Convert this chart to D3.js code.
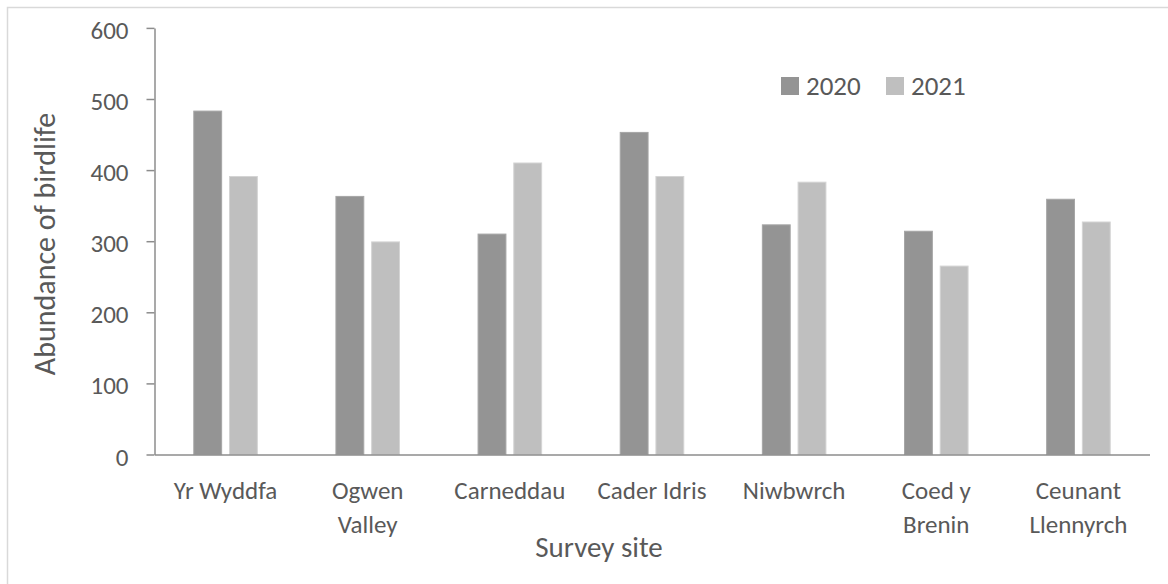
<!DOCTYPE html>
<html>
<head>
<meta charset="utf-8">
<script src="https://cdn.jsdelivr.net/npm/d3@7"></script>
<style>
  html, body { margin: 0; padding: 0; background: #ffffff; }
  svg { display: block; }
  svg text { font-family: Carlito, Calibri, Lato, "Open Sans", sans-serif; }
</style>
</head>
<body>
<svg id="chart" width="1168" height="584"></svg>
<script>
// Survey sites (label lines as they wrap under the axis)
const sites = ["Yr Wyddfa", "Ogwen Valley", "Carneddau", "Cader Idris", "Niwbwrch", "Coed y Brenin", "Ceunant Llennyrch"];
const siteLines = [["Yr Wyddfa"], ["Ogwen", "Valley"], ["Carneddau"], ["Cader Idris"], ["Niwbwrch"], ["Coed y", "Brenin"], ["Ceunant", "Llennyrch"]];
const years = ["2020", "2021"];
const counts2020 = [483, 363, 310, 453, 323, 314, 359];
const counts2021 = [391, 299, 410, 391, 383, 265, 327];
const yTicks = [0, 100, 200, 300, 400, 500, 600];

const seriesValues = { "2020": counts2020, "2021": counts2021 };
const fills = { "2020": "#949494", "2021": "#bfbfbf" };
const edges = { "2020": "#a6a6a6", "2021": "#d4d4d4" };

const svg = d3.select("#chart");
const textColor = "#595959";
const axisColor = "#8c8c8c";

// chart frame
svg.append("rect")
  .attr("x", 7.5).attr("y", 7.5)
  .attr("width", 1200).attr("height", 620)
  .attr("fill", "none").attr("stroke", "#d9d9d9").attr("stroke-width", 1.5);

const plot = { left: 154.5, right: 1149.5, top: 27.9, bottom: 454.5 };

const x = d3.scaleBand().domain(sites).range([plot.left, plot.right]).paddingInner(0).paddingOuter(0);
const inner = d3.scaleBand().domain(years).range([0, x.bandwidth()]).paddingInner(0.22).paddingOuter(1.1);
const y = d3.scaleLinear().domain([0, 600]).range([plot.bottom, plot.top]);

// bars
const groups = svg.append("g").selectAll("g")
  .data(sites).join("g")
  .attr("transform", d => `translate(${x(d)},0)`);

groups.selectAll("rect")
  .data((d, i) => years.map(yr => ({ yr, v: seriesValues[yr][i] })))
  .join("rect")
  .attr("x", d => inner(d.yr))
  .attr("width", inner.bandwidth())
  .attr("y", d => y(d.v))
  .attr("height", d => y(0) - y(d.v))
  .attr("fill", d => fills[d.yr])
  .attr("stroke", d => edges[d.yr])
  .attr("stroke-width", 1);

// y axis
const yAxis = svg.append("g")
  .attr("transform", `translate(${plot.left},0)`)
  .call(d3.axisLeft(y).tickValues(yTicks).tickSize(8).tickPadding(18).tickSizeOuter(0))
  .attr("font-family", null).attr("font-size", null);
yAxis.select(".domain").attr("stroke", axisColor).attr("stroke-width", 1.5);
yAxis.selectAll(".tick line").attr("stroke", axisColor).attr("stroke-width", 1.5);
yAxis.selectAll(".tick text")
  .attr("fill", textColor).attr("font-size", 25).attr("dy", "0.42em");

// x axis baseline
const xAxis = svg.append("g")
  .attr("transform", `translate(0,${plot.bottom})`)
  .call(d3.axisBottom(x).tickSize(0).tickFormat(""));
xAxis.select(".domain").attr("stroke", axisColor).attr("stroke-width", 1.5);

// category labels
const catLabels = svg.append("g").selectAll("text")
  .data(sites).join("text")
  .attr("x", d => x(d) + x.bandwidth() / 2)
  .attr("y", 499)
  .attr("text-anchor", "middle")
  .attr("fill", textColor)
  .attr("font-size", 25);
catLabels.selectAll("tspan")
  .data((d, i) => siteLines[i].map((t, j) => ({ t, j })))
  .join("tspan")
  .attr("x", function () { return d3.select(this.parentNode).attr("x"); })
  .attr("dy", d => d.j === 0 ? 0 : 34)
  .text(d => d.t);

// axis titles
svg.append("text")
  .attr("x", 599).attr("y", 557)
  .attr("text-anchor", "middle")
  .attr("fill", textColor).attr("font-size", 29)
  .text("Survey site");

svg.append("text")
  .attr("transform", "translate(55,244) rotate(-90)")
  .attr("text-anchor", "middle")
  .attr("fill", textColor).attr("font-size", 30)
  .text("Abundance of birdlife");

// legend
const legend = svg.append("g").attr("transform", "translate(781,77)");
const legendItems = legend.selectAll("g").data(years).join("g")
  .attr("transform", (d, i) => `translate(${i * 105},0)`);
legendItems.append("rect")
  .attr("width", 18).attr("height", 18)
  .attr("fill", d => fills[d]);
legendItems.append("text")
  .attr("x", 25).attr("y", 18)
  .attr("fill", textColor).attr("font-size", 27)
  .text(d => d);
</script>
</body>
</html>
